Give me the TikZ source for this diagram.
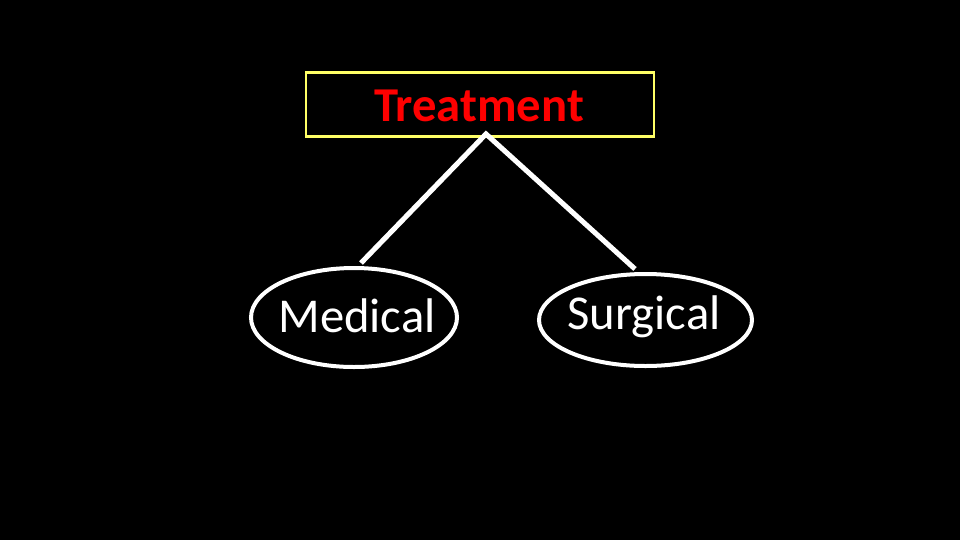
\documentclass[tikz,border=0pt]{standalone}
\usepackage{fontspec}
\setmainfont{Carlito}
\usetikzlibrary{shapes.geometric}
\begin{document}
\begin{tikzpicture}[x=0.75pt,y=-0.75pt,
  box/.style={draw={rgb,255:red,255;green,255;blue,102}, line width=1.6pt, minimum width=348*0.75pt, minimum height=64*0.75pt, inner sep=0pt},
  oval/.style={draw=white, line width=3pt, ellipse, inner sep=0pt},
  lbl/.style={anchor=base, text=white, font=\fontsize{36.5}{40}\selectfont},
  link/.style={draw=white, line width=3.8pt}]
\fill[black] (0,0) rectangle (960,540);
\useasboundingbox (0,0) rectangle (960,540);
\node[box] (treat) at (480,104.5) {};
\node[anchor=base, text={rgb,255:red,255;green,0;blue,0}, font=\fontsize{36.5}{40}\selectfont\bfseries] (treattext) at (479,121.5) {Treatment};
\node[oval, minimum width=206*0.75pt, minimum height=99*0.75pt] (med) at (354,317.5) {};
\node[lbl] (medtext) at (357,332) {Medical};
\node[oval, minimum width=213*0.75pt, minimum height=92*0.75pt] (surg) at (645.5,320) {};
\node[lbl] (surgtext) at (644,329.5) {Surgical};
\coordinate (apex) at (486,134);
\coordinate (medend) at (361,263);
\coordinate (surgend) at (635,269);
\draw[link] (medend) -- (apex) -- (surgend);
\end{tikzpicture}
\end{document}
